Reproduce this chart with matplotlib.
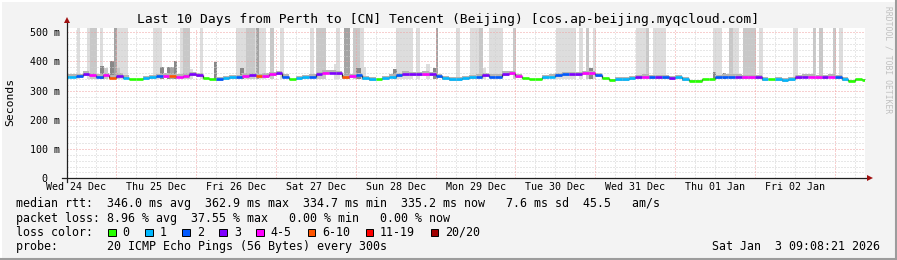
import numpy as np
import matplotlib
matplotlib.use("Agg")
import matplotlib.pyplot as plt
from matplotlib.patches import Rectangle
from datetime import datetime, timedelta

plt.rcParams['font.family'] = 'DejaVu Sans Mono'

# time axis: hours since Wed 24 Dec 2025 00:00
base_day = datetime(2025, 12, 24)
t_start = 9.13
t_end = 249.13
bin_start = 8
bin_hours = 2

# median rtt per 2-hour bin (ms)
median_ms = [348, 348, 350, 358, 354, 348, 354, 345, 351, 345,
             339, 339, 342, 346, 350, 351, 350, 348, 351, 357,
             354, 342, 339, 339, 342, 346, 346, 351, 354, 350,
             351, 357, 359, 348, 339, 342, 346, 348, 357, 362,
             362, 359, 346, 350, 354, 342, 340, 339, 342, 348,
             354, 358, 356, 357, 358, 356, 350, 342, 339, 339,
             342, 346, 348, 354, 348, 348, 358, 359, 350, 342,
             339, 339, 346, 348, 354, 357, 357, 356, 359, 359,
             354, 342, 337, 339, 339, 342, 346, 348, 346, 346,
             346, 342, 346, 339, 334, 334, 339, 339, 346, 348,
             348, 348, 346, 346, 346, 340, 339, 339, 337, 339,
             346, 348, 348, 346, 346, 348, 346, 340, 334, 339, 337]

# loss category per bin (index into loss_labels)
loss_cat = [1, 1, 2, 3, 4, 2, 4, 5, 3, 1,
            0, 0, 1, 1, 2, 4, 5, 4, 4, 3,
            3, 0, 0, 2, 1, 1, 2, 4, 3, 5,
            4, 4, 3, 2, 0, 1, 1, 2, 3, 4,
            3, 3, 5, 4, 2, 1, 1, 0, 1, 1,
            2, 3, 3, 3, 4, 3, 2, 1, 1, 1,
            1, 1, 2, 3, 2, 2, 3, 4, 4, 0,
            0, 0, 1, 1, 2, 2, 3, 3, 4, 4,
            2, 0, 0, 1, 1, 1, 3, 4, 2, 3,
            2, 3, 1, 1, 0, 0, 0, 0, 2, 2,
            2, 3, 4, 4, 3, 1, 0, 1, 1, 1,
            3, 3, 4, 4, 3, 4, 2, 1, 0, 0, 0]

loss_labels = ['0', '1', '2', '3', '4-5', '6-10', '11-19', '20/20']
loss_colors = ['#26ff00', '#00b8ff', '#0059ff', '#7e00ff',
               '#ff00ff', '#ff5500', '#ff0000', '#a00000']

# smoke spikes: start hour, end hour, top (ms), shade
smoke_start = [12.2, 15.2, 16.2, 19.2, 19.2, 20.5, 22.2, 23.4, 24.2, 24.2,
               35.2, 37.2, 39.2, 40.2, 41.4, 43.2, 44.2, 45.2, 49.2, 53.4,
               60.2, 63.2, 61.2, 66.2, 67.0, 70.2, 73.2, 82.2, 84.2, 89.4,
               90.2, 92.4, 95.2, 96.2, 97.2, 98.4, 107.2, 108.2, 114.2, 117.2,
               119.2, 120.0, 126.2, 130.2, 133.2, 134.2, 136.2, 143.2, 156.2, 163.2,
               165.2, 166.2, 167.2, 180.2, 183.2, 185.2, 203.2, 203.2, 206.4, 208.2,
               208.2, 212.4, 217.2, 227.4, 233.4, 235.2, 239.4, 241.2]
smoke_end = [13.2, 18.2, 18.2, 20.2, 20.5, 21.5, 23.4, 24.2, 27.7, 25.2,
             37.7, 38.4, 40.2, 41.4, 42.2, 44.2, 46.2, 47.2, 50.2, 54.2,
             66.2, 65.7, 62.4, 67.0, 69.2, 71.5, 74.4, 83.5, 87.2, 90.4,
             91.2, 94.2, 97.2, 97.7, 98.4, 99.2, 108.4, 113.2, 115.2, 118.2,
             120.2, 120.6, 127.2, 133.2, 134.4, 135.2, 140.2, 144.2, 162.2, 164.2,
             166.2, 167.4, 168.2, 183.2, 184.2, 189.3, 206.2, 204.2, 207.4, 211.2,
             209.4, 216.2, 218.4, 229.0, 234.4, 236.4, 240.4, 242.4]
smoke_top = [520, 520, 520, 520, 385, 378, 402, 520, 520, 378,
             520, 380, 380, 380, 402, 520, 520, 374, 520, 399,
             520, 520, 378, 520, 520, 520, 520, 520, 520, 390,
             520, 520, 520, 378, 520, 382, 374, 520, 520, 390,
             378, 520, 520, 520, 520, 378, 520, 520, 520, 520,
             520, 378, 520, 520, 520, 520, 520, 365, 362, 520,
             520, 520, 520, 520, 520, 520, 520, 520]
smoke_shade = [0, 0, 1, 0, 3, 1, 3, 2, 0, 1,
               0, 3, 3, 2, 3, 0, 1, 0, 0, 3,
               0, 1, 3, 2, 0, 1, 0, 0, 1, 0,
               0, 2, 1, 3, 0, 0, 3, 0, 0, 0,
               3, 2, 0, 0, 1, 0, 0, 1, 0, 0,
               1, 3, 0, 0, 1, 0, 0, 3, 3, 0,
               1, 1, 0, 0, 1, 1, 1, 0]
shade_colors = ['#dddddd', '#c8c8c8', '#a4a4a4', '#888888']

stats_line = "median rtt:  346.0 ms avg  362.9 ms max  334.7 ms min  335.2 ms now   7.6 ms sd  45.5   am/s"
loss_line = "packet loss: 8.96 % avg  37.55 % max   0.00 % min   0.00 % now"
probe_line = "probe:       20 ICMP Echo Pings (56 Bytes) every 300s"
stamp = "Sat Jan  3 09:08:21 2026"
title = "Last 10 Days from Perth to [CN] Tencent (Beijing) [cos.ap-beijing.myqcloud.com]"

W, H = 897, 260
fig = plt.figure(figsize=(W / 100, H / 100), dpi=100)
fig.patch.set_facecolor('#f3f3f3')

ax_l, ax_r, ax_b, ax_t = 66.5, 865.4, 178.3, 27.7
ax = fig.add_axes([ax_l / W, (H - ax_b) / H, (ax_r - ax_l) / W, (ax_b - ax_t) / H])
ax.set_facecolor('white')
for s in ax.spines.values():
    s.set_visible(False)
ax.set_xlim(t_start, t_end)
ax.set_ylim(0, 515.7)

# grid (dotted, rrdtool style)
minor_c, major_c = '#d0d0d0', '#f0a0a0'
dots = (0, (1, 2))
for v in range(0, 516, 20):
    if v % 100:
        ax.axhline(v, color=minor_c, lw=0.72, ls=dots, zorder=2.5)
for v in range(100, 516, 100):
    ax.axhline(v, color=major_c, lw=0.72, ls=dots, zorder=2.6)
for h in range(0, 252, 6):
    if h % 24:
        ax.axvline(h, color=minor_c, lw=0.72, ls=dots, zorder=2.5)
    else:
        ax.axvline(h, color=major_c, lw=0.72, ls=dots, zorder=2.6)

# smoke
order = np.argsort(smoke_shade, kind='stable')
s0 = np.array(smoke_start)[order]
s1 = np.array(smoke_end)[order]
st = np.array(smoke_top)[order]
sc = [shade_colors[smoke_shade[i]] for i in order]
ax.bar(s0, st - 340, width=s1 - s0, bottom=340, align='edge', color=sc,
       linewidth=0, zorder=1)

# median with loss colours
med = np.array(median_ms, dtype=float)
edges = bin_start + bin_hours * np.arange(len(med) + 1)
lossy = np.array(loss_cat) > 0
band_hi = np.where(lossy, med + 8, med + 2)
band_lo = np.where(lossy, med - 6, med - 2)
ax.fill_between(edges, np.append(band_lo, band_lo[-1]), np.append(band_hi, band_hi[-1]),
                step='post', color='#b4b4b4', lw=0, zorder=1.5)
cols = [loss_colors[c] for c in loss_cat]
ax.vlines(edges[1:-1], med[:-1], med[1:], colors='#303030', lw=0.9, zorder=3)
ax.hlines(med, edges[:-1], edges[1:], colors=cols, lw=1.9, zorder=3.2)

# ticks
ax.set_yticks(range(0, 501, 100))
ax.set_yticklabels([f"{v} m" if v else "0  " for v in range(0, 501, 100)])
noons = [h for h in range(12, 250, 24) if h < t_end]
ax.set_xticks(noons)
ax.set_xticklabels([(base_day + timedelta(hours=h)).strftime('%a %d %b') for h in noons])
ax.tick_params(axis='y', length=0, labelsize=7.2, pad=4.7)
ax.tick_params(axis='x', length=0, labelsize=7.2, pad=3.0)

# overlay in pixel coordinates for text and axis arrows
ov = fig.add_axes([0, 0, 1, 1])
ov.set_xlim(0, W)
ov.set_ylim(H, 0)
ov.axis('off')
ov.patch.set_alpha(0)
ov.set_zorder(5)

ov.plot([62, 868], [ax_b, ax_b], color='#202020', lw=0.9)
ov.plot([ax_l, ax_l], [182, 22], color='#202020', lw=0.9)
ov.plot([870], [ax_b], marker='>', color='#a01010', ms=4, mew=0)
ov.plot([ax_l], [20], marker='^', color='#a01010', ms=4, mew=0)

ov.text(448, 19, title, ha='center', va='center', fontsize=9.4)
ov.text(10, 102, 'Seconds', rotation=90, ha='center', va='center', fontsize=8.2)
ov.text(888, 60, 'RRDTOOL / TOBI OETIKER', rotation=270, ha='center', va='center',
        fontsize=5.8, color='#c0c0c0')

fs = 8.4
cw = 7.03
ov.text(16, 204, stats_line, va='center', fontsize=fs)
ov.text(16, 218.3, loss_line, va='center', fontsize=fs)
ov.text(16, 232.3, "loss color:", va='center', fontsize=fs)
x = 108.3
for lab, c in zip(loss_labels, loss_colors):
    ov.add_patch(Rectangle((x, 228.5), 7.5, 7.5, facecolor=c, edgecolor='black', lw=0.7))
    ov.text(x + 14.4, 232.3, lab, va='center', fontsize=fs)
    x += 14.4 + len(lab) * cw + 15.6
ov.text(16, 246.3, probe_line, va='center', fontsize=fs)
ov.text(880, 246.3, stamp, ha='right', va='center', fontsize=fs)

# frame
ov.plot([0, W], [0.5, 0.5], color='#ffffff', lw=1.5)
ov.plot([0.5, 0.5], [0, H], color='#ffffff', lw=1.5)
ov.plot([0, W], [H - 1, H - 1], color='#9c9c9c', lw=1.5)
ov.plot([W - 1, W - 1], [0, H], color='#9c9c9c', lw=1.5)

fig.savefig('out.png', dpi=100, facecolor=fig.get_facecolor())
